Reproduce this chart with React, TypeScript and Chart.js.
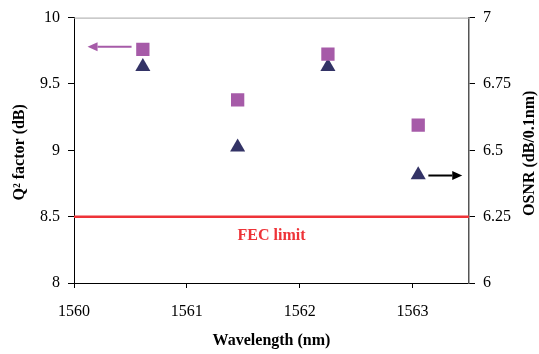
import { useEffect, useRef } from "react";
import { Chart, registerables } from "chart.js";

Chart.register(...registerables);

// ---- data ----
const wavelengths = [1560.61, 1561.45, 1562.25, 1563.05];
const q2Factor = [9.76, 9.38, 9.725, 9.19];
const osnr = [6.815, 6.512, 6.815, 6.407];
const fecLimit = 8.5;
const xRange = [1560, 1563.5];
const xTicks = [1560, 1561, 1562, 1563];
const yLeftTicks = [8, 8.5, 9, 9.5, 10];
const yRightTicks = [6, 6.25, 6.5, 6.75, 7];
const fecLabel = "FEC limit";
const xTitle = "Wavelength (nm)";
const yLeftTitle = "Q\u00B2 factor (dB)";
const yRightTitle = "OSNR (dB/0.1nm)";

const FONT = "'Liberation Serif'";
const SQUARE_COLOR = "#A65BA8";
const TRI_COLOR = "#333366";
const RED = "#EE3338";

Chart.defaults.font.family = FONT;
Chart.defaults.font.size = 16;
Chart.defaults.color = "#000";

function drawArrow(ctx: CanvasRenderingContext2D, x1: number, y: number, x2: number, color: string) {
  const dir = Math.sign(x2 - x1);
  const headLen = 10;
  const headHalf = 4.5;
  ctx.save();
  ctx.strokeStyle = color;
  ctx.fillStyle = color;
  ctx.lineWidth = 2;
  ctx.beginPath();
  ctx.moveTo(x1, y);
  ctx.lineTo(x2 - dir * headLen, y);
  ctx.stroke();
  ctx.beginPath();
  ctx.moveTo(x2, y);
  ctx.lineTo(x2 - dir * headLen, y - headHalf);
  ctx.lineTo(x2 - dir * headLen, y + headHalf);
  ctx.closePath();
  ctx.fill();
  ctx.restore();
}

const decorPlugin = {
  id: "decor",
  afterDraw(chart: any) {
    const ctx: CanvasRenderingContext2D = chart.ctx;
    const { left, right, top, bottom } = chart.chartArea;
    const xs = chart.scales.x;
    const yl = chart.scales.y;
    const yr = chart.scales.y2;
    ctx.save();
    // top frame line
    ctx.strokeStyle = "#A6A6A6";
    ctx.lineWidth = 1;
    ctx.beginPath();
    ctx.moveTo(left, top + 0.5);
    ctx.lineTo(right, top + 0.5);
    ctx.stroke();

    // FEC label
    ctx.fillStyle = RED;
    ctx.font = `bold 16px ${FONT}`;
    ctx.textAlign = "center";
    ctx.textBaseline = "middle";
    ctx.fillText(fecLabel, (left + right) / 2, yl.getPixelForValue(fecLimit) + 19);

    // axis titles
    ctx.fillStyle = "#000";
    ctx.fillText(xTitle, (left + right) / 2, 341);
    ctx.save();
    ctx.translate(20, (top + bottom) / 2 + 2);
    ctx.rotate(-Math.PI / 2);
    ctx.fillText(yLeftTitle, 0, 0);
    ctx.restore();
    ctx.save();
    ctx.translate(530, (top + bottom) / 2 + 3);
    ctx.rotate(-Math.PI / 2);
    ctx.fillText(yRightTitle, 0, 0);
    ctx.restore();

    // arrows
    drawArrow(ctx, xs.getPixelForValue(1560.51), yl.getPixelForValue(9.78), xs.getPixelForValue(1560.12), "#A65BA8");
    drawArrow(ctx, xs.getPixelForValue(1563.14), yr.getPixelForValue(6.405), xs.getPixelForValue(1563.44), "#000");
    ctx.restore();
    void bottom;
  },
};

export default function App() {
  const ref = useRef<HTMLCanvasElement>(null);
  useEffect(() => {
    if (!ref.current) return;
    const tickFont = { family: FONT, size: 16, weight: "normal" as const };
    const chart = new Chart(ref.current, {
      type: "scatter",
      data: {
        datasets: [
          {
            label: "FEC",
            type: "line",
            data: xRange.map((x) => ({ x, y: fecLimit })),
            borderColor: RED,
            borderWidth: 2.5,
            pointRadius: 0,
            yAxisID: "y",
          } as any,
          {
            label: "Q2",
            data: wavelengths.map((x, i) => ({ x, y: q2Factor[i] })),
            pointStyle: "rect",
            pointRadius: 9.4,
            backgroundColor: SQUARE_COLOR,
            borderColor: SQUARE_COLOR,
            borderWidth: 0,
            yAxisID: "y",
          },
          {
            label: "OSNR",
            data: wavelengths.map((x, i) => ({ x, y: osnr[i] })),
            pointStyle: "triangle",
            pointRadius: 8.7,
            backgroundColor: TRI_COLOR,
            borderColor: TRI_COLOR,
            borderWidth: 0,
            yAxisID: "y2",
          },
        ],
      },
      options: {
        animation: false,
        responsive: false,
        layout: { padding: { top: 14, left: 0, right: 0, bottom: 0 } },
        plugins: { legend: { display: false }, tooltip: { enabled: false } },
        scales: {
          x: {
            type: "linear",
            min: xRange[0],
            max: xRange[1],
            afterBuildTicks: (s: any) => {
              s.ticks = xTicks.map((v) => ({ value: v }));
            },
            afterFit: (s: any) => {
              s.height = 71;
            },
            ticks: { font: tickFont, color: "#000", padding: 14, maxRotation: 0, callback: (v: any) => String(v) },
            grid: { drawOnChartArea: false, tickLength: 5, tickColor: "#000" },
            border: { color: "#000", width: 1 },
          },
          y: {
            type: "linear",
            position: "left",
            min: 8,
            max: 10,
            afterBuildTicks: (s: any) => {
              s.ticks = yLeftTicks.map((v) => ({ value: v }));
            },
            afterFit: (s: any) => {
              s.width = 74;
            },
            ticks: { font: tickFont, color: "#000", padding: 8, callback: (v: any) => String(v) },
            grid: { drawOnChartArea: false, tickLength: 6, tickColor: "#000" },
            border: { color: "#000", width: 1 },
          },
          y2: {
            type: "linear",
            position: "right",
            min: 6,
            max: 7,
            afterBuildTicks: (s: any) => {
              s.ticks = yRightTicks.map((v) => ({ value: v }));
            },
            afterFit: (s: any) => {
              s.width = 70;
            },
            ticks: { font: tickFont, color: "#000", padding: 8, callback: (v: any) => String(v) },
            grid: { drawOnChartArea: false, tickLength: 6, tickColor: "#000" },
            border: { color: "#555", width: 1.5 },
          },
        },
      },
      plugins: [decorPlugin],
    });
    return () => chart.destroy();
  }, []);
  return (
    <div style={{ position: "absolute", left: 0, top: 0, width: 539, height: 354, background: "#fff" }}>
      <canvas ref={ref} width={539} height={354} />
    </div>
  );
}
